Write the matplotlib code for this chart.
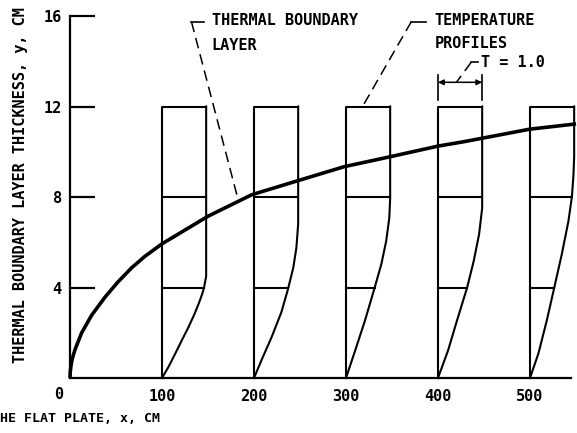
import numpy as np
import matplotlib
matplotlib.use("Agg")
import matplotlib.pyplot as plt

# boundary layer thickness
bl_x = [0, 0.3, 1.1, 2.5, 5.4, 12.7, 23.6, 38, 52, 67, 81.5, 100, 150, 197.5, 250, 298, 348, 400, 427.5, 500, 550]
bl_y = [0, 0.28, 0.55, 0.86, 1.25, 2.0, 2.78, 3.57, 4.24, 4.87, 5.38, 5.93, 7.15, 8.1, 8.75, 9.34, 9.78, 10.25, 10.44, 11.0, 11.23]

# temperature profiles at each station: (y, T)
stations = [100, 200, 300, 400, 500]
prof_y = [
    [0, 0.5, 1.08, 1.67, 2.25, 2.76, 3.28, 3.71, 3.98, 4.5, 12],
    [0, 0.79, 1.81, 2.91, 3.93, 4.88, 5.76, 6.8, 12],
    [0, 1.23, 2.54, 4.0, 5.03, 6.05, 7.07, 7.95, 12],
    [0, 1.23, 2.54, 4.0, 5.18, 6.35, 7.5, 12],
    [0, 1.08, 2.54, 4.0, 5.47, 6.93, 8.03, 9.0, 9.8, 12],
]
prof_T = [
    [0, 0.15, 0.30, 0.45, 0.60, 0.72, 0.83, 0.91, 0.95, 1.0, 1.0],
    [0, 0.17, 0.40, 0.62, 0.77, 0.89, 0.96, 1.0, 1.0],
    [0, 0.21, 0.43, 0.65, 0.80, 0.91, 0.98, 1.0, 1.0],
    [0, 0.23, 0.43, 0.66, 0.81, 0.93, 1.0, 1.0],
    [0, 0.19, 0.38, 0.55, 0.72, 0.87, 0.95, 0.985, 1.0, 1.0],
]
t_scale = 48.0   # cm of plot per unit T
grid_levels = [4, 8]

x_ticks = [100, 200, 300, 400, 500]
y_ticks = [4, 8, 12, 16]

plt.rcParams['font.family'] = "DejaVu Sans Mono"
plt.rcParams['font.weight'] = 'bold'

fig = plt.figure(figsize=(5.77, 4.33), dpi=100)
ax = fig.add_axes([70/577, 55/433, 506/577, 373.3/433])
ax.set_xlim(0, 550)
ax.set_ylim(0, 16.5)

for s in ['top', 'right']:
    ax.spines[s].set_visible(False)
ax.spines['left'].set_bounds(0, 16)
ax.spines['bottom'].set_bounds(0, 545)
ax.spines['left'].set_linewidth(1.6)
ax.spines['bottom'].set_linewidth(1.6)

ax.set_yticks(y_ticks)
ax.set_xticks(x_ticks)
ax.tick_params(axis='y', direction='in', length=18, width=1.6, pad=6, labelsize=11)
ax.tick_params(axis='x', length=0, pad=8, labelsize=11)
ax.text(-12, -0.75, "0", fontsize=11, ha='center', va='center')

# temperature profile boxes
for x0, py, pT in zip(stations, prof_y, prof_T):
    px = [x0 + t * t_scale for t in pT]
    ax.plot(px, py, color='black', lw=1.5, solid_joinstyle='round', clip_on=False)
    ax.plot([x0, x0, x0 + t_scale], [0, 12, 12], color='black', lw=1.5, clip_on=False)
    for lev in grid_levels:
        tl = np.interp(lev, py, pT)
        ax.plot([x0, x0 + tl * t_scale], [lev, lev], color='black', lw=1.5)

# boundary layer curve
ax.plot(bl_x, bl_y, color='black', lw=2.6, clip_on=False,
        solid_capstyle='butt', solid_joinstyle='round')

dash = dict(color='black', lw=1.1, dashes=(7, 4))
# THERMAL BOUNDARY LAYER label
ax.plot([132, 146], [15.75, 15.75], color='black', lw=1.2)
ax.plot([132, 182], [15.75, 8.0], **dash)
ax.text(154, 15.8, "THERMAL BOUNDARY", fontsize=11, va='center', ha='left')
ax.text(154, 14.7, "LAYER", fontsize=11, va='center', ha='left')

# TEMPERATURE PROFILES label
ax.plot([371, 387], [15.75, 15.75], color='black', lw=1.2)
ax.plot([371, 318], [15.75, 12.0], **dash)
ax.text(396, 15.8, "TEMPERATURE", fontsize=11, va='center', ha='left')
ax.text(396, 14.8, "PROFILES", fontsize=11, va='center', ha='left')

# T = 1.0 dimension
ax.plot([400, 400], [12.3, 13.4], color='black', lw=1.2)
ax.plot([400 + t_scale, 400 + t_scale], [12.3, 13.4], color='black', lw=1.2)
ax.annotate("", xy=(400, 13.07), xytext=(400 + t_scale, 13.07),
            arrowprops=dict(arrowstyle='<|-|>', color='black', lw=1.1,
                            mutation_scale=8, shrinkA=0, shrinkB=0))
ax.plot([436, 444], [13.95, 13.95], color='black', lw=1.2)
ax.plot([436, 420], [13.95, 13.07], **dash)
ax.text(447, 13.95, "T = 1.0", fontsize=11, va='center', ha='left')

fig.text(21/577, 1 - 185/433, "THERMAL BOUNDARY LAYER THICKNESS, y, CM",
         rotation=90, fontsize=11, ha='center', va='center')
fig.text(0, 1 - 418/433, "HE FLAT PLATE, x, CM", fontsize=9.5,
         ha='left', va='center')

fig.savefig("out.png", dpi=100)
